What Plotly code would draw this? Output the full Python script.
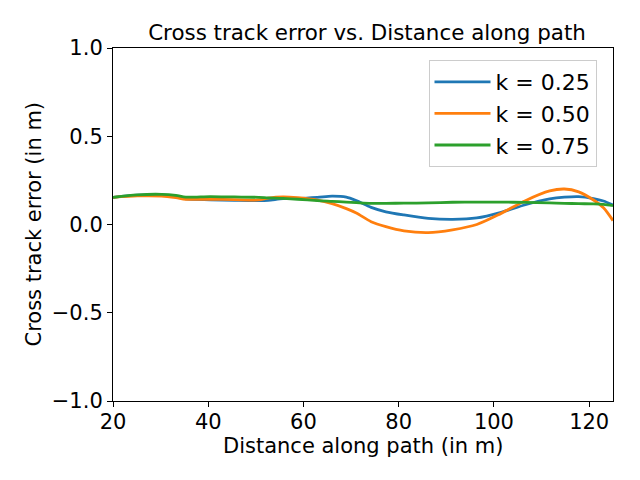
import plotly.graph_objects as go

distance = [20, 25.1, 30.2, 33.2, 35.3, 40.4, 45.5, 50.6, 52.6, 55.7, 58.8, 62.9, 66.0, 69.0, 71.1, 74.2, 77.3, 81.1, 86.2, 91.3, 96.4, 101.5, 106.6, 111.7, 114.8, 117.8, 120.9, 123.0, 125.0]
err_k025 = [0.154, 0.166, 0.167, 0.157, 0.145, 0.140, 0.137, 0.135, 0.137, 0.147, 0.148, 0.154, 0.161, 0.155, 0.135, 0.097, 0.072, 0.054, 0.035, 0.029, 0.037, 0.069, 0.112, 0.145, 0.155, 0.158, 0.147, 0.133, 0.110]
err_k050 = [0.154, 0.162, 0.161, 0.152, 0.143, 0.143, 0.141, 0.139, 0.150, 0.157, 0.152, 0.138, 0.118, 0.090, 0.065, 0.016, -0.012, -0.036, -0.046, -0.030, 0.000, 0.063, 0.135, 0.190, 0.201, 0.185, 0.139, 0.095, 0.022]
err_k075 = [0.154, 0.168, 0.171, 0.165, 0.155, 0.158, 0.156, 0.154, 0.151, 0.148, 0.143, 0.135, 0.131, 0.127, 0.124, 0.120, 0.120, 0.121, 0.122, 0.126, 0.127, 0.127, 0.125, 0.122, 0.120, 0.118, 0.117, 0.114, 0.107]
series_names = ["k = 0.25", "k = 0.50", "k = 0.75"]
colors = ["#1f77b4", "#ff7f0e", "#2ca02c"]
x_ticks = [20, 40, 60, 80, 100, 120]
y_ticks = [-1.0, -0.5, 0.0, 0.5, 1.0]
y_ticklabels = ["\u22121.0", "\u22120.5", "0.0", "0.5", "1.0"]

fig = go.Figure()
for name, ys, c in zip(series_names, [err_k025, err_k050, err_k075], colors):
    fig.add_trace(go.Scatter(x=distance, y=ys, mode="lines", name=name,
                             line=dict(color=c, width=2.8, shape="spline", smoothing=0.8)))

font = "DejaVu Sans"
axis_common = dict(showgrid=False, zeroline=False, showline=True, linecolor="black",
                   linewidth=1.1, mirror=True, ticks="outside", ticklen=5, tickwidth=1.1,
                   tickcolor="black", automargin=False,
                   tickfont=dict(family=font, size=21, color="black"))
# page body has an 8px margin, so offsets are compensated
fig.update_layout(
    width=640, height=480,
    paper_bgcolor="white", plot_bgcolor="white",
    margin=dict(l=105, r=35, t=40, b=87),
    title=dict(text="Cross track error vs. Distance along path", x=359 / 640, xanchor="center",
               xref="container", yref="container",
               y=1 - 25 / 480, yanchor="middle", font=dict(family=font, size=21.4, color="black")),
    xaxis=dict(range=[20, 125], tickvals=x_ticks, ticklabelstandoff=-3, **axis_common),
    yaxis=dict(range=[-1.0, 1.0], tickvals=y_ticks, ticktext=y_ticklabels, **axis_common),
    legend=dict(x=0.967, y=0.966, xanchor="right", yanchor="top",
                bordercolor="#cccccc", borderwidth=1, bgcolor="rgba(255,255,255,0.8)",
                font=dict(family=font, size=22, color="black"), itemwidth=56),
    showlegend=True,
    annotations=[
        dict(text="Distance along path (in m)", xref="paper", yref="paper", x=0.5, y=0,
             xanchor="center", yanchor="middle", yshift=-45, showarrow=False,
             font=dict(family=font, size=21, color="black")),
        dict(text="Cross track error (in m)", xref="paper", yref="paper", x=0, y=0.5,
             xanchor="center", yanchor="middle", xshift=-80, textangle=-90, showarrow=False,
             font=dict(family=font, size=21, color="black")),
    ],
)
fig.write_html("out.html")
